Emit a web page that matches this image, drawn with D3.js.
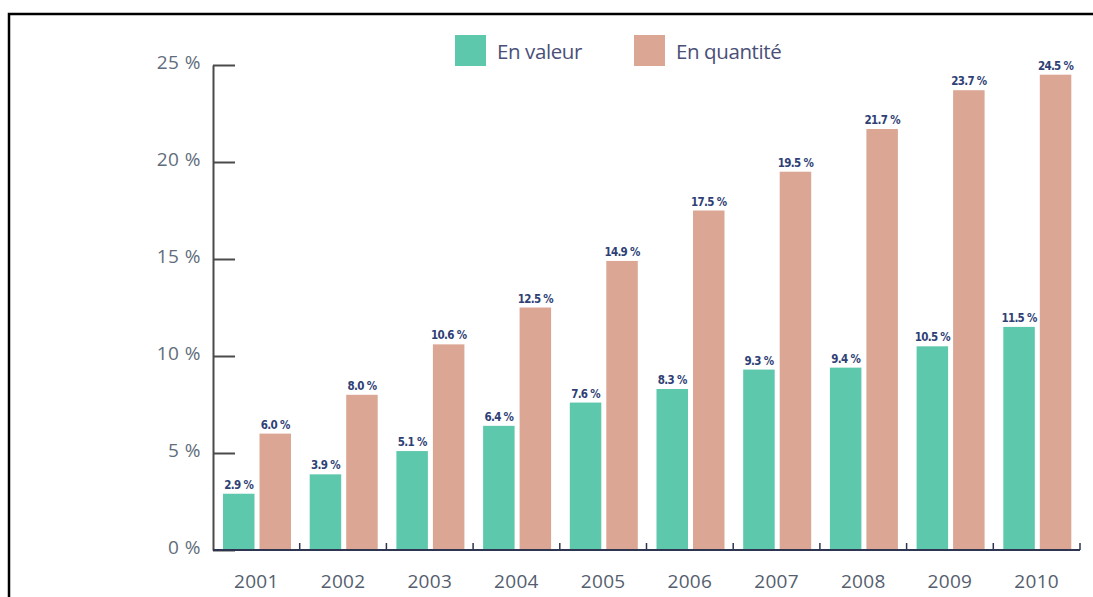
<!DOCTYPE html>
<html>
<head>
<meta charset="utf-8">
<script src="https://cdn.jsdelivr.net/npm/d3@7"></script>
<style>
  html, body { margin: 0; padding: 0; background: #fff; }
  svg { display: block; }
</style>
</head>
<body>
<svg id="chart" width="1093" height="597"></svg>
<script>
const years = ["2001","2002","2003","2004","2005","2006","2007","2008","2009","2010"];
const enValeur = [2.9, 3.9, 5.1, 6.4, 7.6, 8.3, 9.3, 9.4, 10.5, 11.5];
const enQuantite = [6.0, 8.0, 10.6, 12.5, 14.9, 17.5, 19.5, 21.7, 23.7, 24.5];
const seriesNames = ["En valeur", "En quantité"];
const yTicks = [0, 5, 10, 15, 20, 25];

const colors = ["#5ec8ad", "#dba794"];
const svg = d3.select("#chart");

// frame
svg.append("path")
  .attr("d", "M9,597 L9,14 L1093,14")
  .attr("fill", "none").attr("stroke", "#000").attr("stroke-width", 2.5);

const x = d3.scaleBand().domain(years).range([213, 1080]).padding(0);
const xs = d3.scaleBand().domain([0, 1]).range([10, 78]).paddingInner(0.137);
const y = d3.scaleLinear().domain([0, 25]).range([550, 65]);

// bars
const data = [];
years.forEach((yr, i) => {
  data.push({ yr, s: 0, v: enValeur[i] });
  data.push({ yr, s: 1, v: enQuantite[i] });
});

svg.append("g").selectAll("rect").data(data).join("rect")
  .attr("x", d => x(d.yr) + xs(d.s))
  .attr("width", xs.bandwidth())
  .attr("y", d => y(d.v))
  .attr("height", d => y(0) - y(d.v))
  .attr("fill", d => colors[d.s]);

// value labels
svg.append("g").selectAll("text").data(data).join("text")
  .attr("x", d => x(d.yr) + xs(d.s) + xs.bandwidth() / 2)
  .attr("y", d => y(d.v) - 5)
  .attr("text-anchor", "middle")
  .attr("font-family", "'DejaVu Sans Condensed', 'DejaVu Sans', sans-serif")
  .attr("font-stretch", "condensed")
  .attr("font-weight", "bold")
  .attr("font-size", 11.5)
  .attr("letter-spacing", -0.7)
  .attr("fill", "#2f3f75")
  .text(d => d.v.toFixed(1) + " %");

// y axis
const yAxis = d3.axisLeft(y).tickValues(yTicks).tickSizeInner(-22).tickSizeOuter(0).tickPadding(12)
  .tickFormat(d => d + " %");
const gy = svg.append("g").attr("transform", "translate(213,0)").call(yAxis);
gy.select(".domain").attr("stroke", "#4a4a4a").attr("stroke-width", 2);
gy.selectAll(".tick line").attr("stroke", "#4a4a4a").attr("stroke-width", 2);
gy.selectAll(".tick text")
  .attr("font-family", "'Open Sans', sans-serif")
  .attr("font-size", 19)
  .attr("dy", "0.18em")
  .attr("letter-spacing", 0.5)
  .attr("fill", "#5f6d7c");

// x axis
svg.append("line")
  .attr("x1", 213).attr("x2", x.range()[1])
  .attr("y1", y(0)).attr("y2", y(0))
  .attr("stroke", "#2e3550").attr("stroke-width", 2);
svg.append("g").selectAll("line").data(years).join("line")
  .attr("x1", d => x(d) + x.step()).attr("x2", d => x(d) + x.step())
  .attr("y1", y(0)).attr("y2", y(0) - 7)
  .attr("stroke", "#2e3550").attr("stroke-width", 1.5);
svg.append("g").selectAll("text").data(years).join("text")
  .attr("x", d => x(d) + x.bandwidth() / 2)
  .attr("y", 588)
  .attr("text-anchor", "middle")
  .attr("font-family", "'Open Sans', sans-serif")
  .attr("font-size", 19)
  .attr("letter-spacing", 0.3)
  .attr("fill", "#555e6e")
  .text(d => d);

// legend
const legendX = [455, 634];
const lg = svg.append("g").selectAll("g").data(seriesNames).join("g")
  .attr("transform", (d, i) => `translate(${legendX[i]},35)`);
lg.append("rect").attr("width", 31).attr("height", 31).attr("fill", (d, i) => colors[i]);
lg.append("text")
  .attr("x", 42).attr("y", 24)
  .attr("font-family", "'Open Sans', sans-serif")
  .attr("font-size", 20.5)
  .attr("letter-spacing", -0.4)
  .attr("fill", "#4a4f78")
  .text(d => d);
</script>
</body>
</html>
